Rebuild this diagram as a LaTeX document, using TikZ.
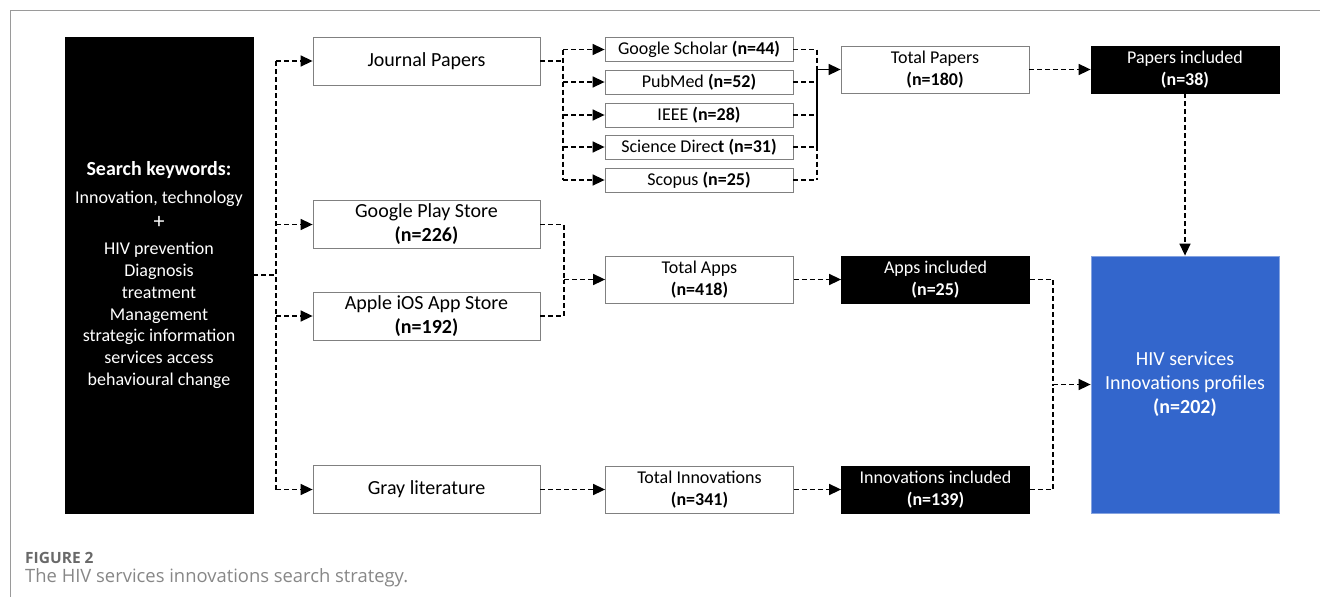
\documentclass[tikz,border=0pt]{standalone}
\usepackage{fontspec}
\setmainfont{Carlito}
\newfontfamily\capfont{Open Sans}
\usetikzlibrary{arrows.meta}
\definecolor{boxgray}{RGB}{128,128,128}
\definecolor{hivblue}{RGB}{51,102,204}
\definecolor{capgray}{RGB}{105,105,105}
\begin{document}
\begin{tikzpicture}[x=1pt, y=-1pt,
    box/.style={draw=boxgray, line width=0.8pt, fill=white, align=center, inner sep=0pt,
        minimum width=188pt, minimum height=47pt, font=\fontsize{18}{22}\selectfont},
    bigbox/.style={box, minimum width=227pt, minimum height=48pt, font=\fontsize{20}{24}\selectfont},
    srcbox/.style={box, minimum height=24pt},
    blackbox/.style={box, draw=black, fill=black, text=white},
    dashline/.style={line width=1.5pt, dash pattern=on 5pt off 3pt},
    dasharrow/.style={dashline, -{Triangle[length=12pt, width=11pt]}},
    solidarrow/.style={line width=1.5pt, -{Triangle[length=12pt, width=11pt]}}]
    \useasboundingbox (0,0) rectangle (1320,597);
    % Frame
    \draw[boxgray!80, line width=1pt] (1320,10) -- (10,10) -- (10,597);

    % Keywords
    \node[blackbox, minimum height=476pt, font=\fontsize{18}{21.8}\selectfont] (kw) at (159,275)
        {{\fontsize{20}{24}\selectfont\bfseries Search keywords:}\\[6pt]
         Innovation, technology\\[4pt] {\fontsize{22}{24}\selectfont +}\\[4pt] HIV prevention\\
         Diagnosis\\ treatment\\ Management\\
         strategic information\\ services access\\ behavioural change};

    % Sources
    \node[bigbox] (jp) at (426.5,61) {Journal Papers};
    \node[bigbox] (gp) at (426.5,224.5) {Google Play Store\\\textbf{(n=226)}};
    \node[bigbox] (ios) at (426.5,316) {Apple iOS App Store\\\textbf{(n=192)}};
    \node[bigbox] (gray) at (426.5,489.5) {Gray literature};
    \foreach \n/\y/\t/\c in {gs/49.5/Google Scholar/44, pm/82/PubMed/52, ieee/115/IEEE/28,
        sd/147/{Science Direc\textbf{t}}/31, sc/180/Scopus/25}
        \node[srcbox] (\n) at (699,\y) {\t\ \textbf{(n=\c)}};

    % Totals and included
    \node[box] (tp) at (935,69.5) {Total Papers\\\textbf{(n=180)}};
    \node[blackbox] (pi) at (1185,69.5) {Papers included\\\textbf{(n=38)}};
    \node[box] (ta) at (699.5,279.5) {Total Apps\\\textbf{(n=418)}};
    \node[blackbox] (ai) at (935.5,279.5) {Apps included\\\textbf{(n=25)}};
    \node[box] (ti) at (699.5,489.5) {Total Innovations\\\textbf{(n=341)}};
    \node[blackbox] (ii) at (935.5,489.5) {Innovations included\\\textbf{(n=139)}};
    \node[box, draw=hivblue!60!white, fill=hivblue, text=white, minimum height=257pt,
        font=\fontsize{20}{24}\selectfont] (hiv) at (1185,384.5)
        {HIV services\\Innovations profiles\\\textbf{(n=202)}};

    % Keywords to sources
    \coordinate (kwj) at (276,275);
    \draw[dashline] (kw) -- (kwj);
    \draw[dashline] (kwj |- jp) -- (kwj |- gray);
    \foreach \n in {jp,gp,ios,gray}
        \draw[dasharrow] (kwj |- \n) -- (\n);

    % Journals to databases
    \coordinate (jpj) at (563,61);
    \draw[dashline] (jp) -- (jpj);
    \draw[dashline] (jpj |- gs) -- (jpj |- sc);
    \foreach \n in {gs,pm,ieee,sd,sc}
        \draw[dasharrow] (jpj |- \n) -- (\n);

    % Databases to total papers
    \coordinate (tpj) at (817,69.5);
    \foreach \n in {gs,pm,ieee,sd,sc}
        \draw[dashline] (\n) -- (tpj |- \n);
    \draw[dashline] (tpj |- gs) -- (tpj |- sc);
    \draw[line width=1.5pt] (tpj) -- (tpj |- sd);
    \draw[solidarrow] (tpj) -- (tp);
    \draw[dasharrow] (tp) -- (pi);
    \draw[dasharrow] (pi) -- (hiv);

    % Apps
    \coordinate (taj) at (564,279.5);
    \draw[dashline] (gp) -| (taj);
    \draw[dashline] (ios) -| (taj);
    \draw[dasharrow] (taj) -- (ta);
    \draw[dasharrow] (ta) -- (ai);

    % Gray literature
    \draw[dasharrow] (gray) -- (ti);
    \draw[dasharrow] (ti) -- (ii);

    % Included to profiles
    \coordinate (hivj) at (1053,384.5);
    \draw[dashline] (ai) -| (hivj);
    \draw[dashline] (ii) -| (hivj);
    \draw[dasharrow] (hivj) -- (hiv);

    % Caption
    \node[anchor=base west, inner sep=0pt, text=capgray,
        font=\capfont\fontsize{15.5}{18}\selectfont\bfseries] (fig) at (25,563) {FIGURE 2};
    \node[anchor=base west, inner sep=0pt, text=capgray!80,
        font=\capfont\fontsize{18.4}{20}\selectfont] (cap) at (25,582)
        {The HIV services innovations search strategy.};
\end{tikzpicture}
\end{document}
